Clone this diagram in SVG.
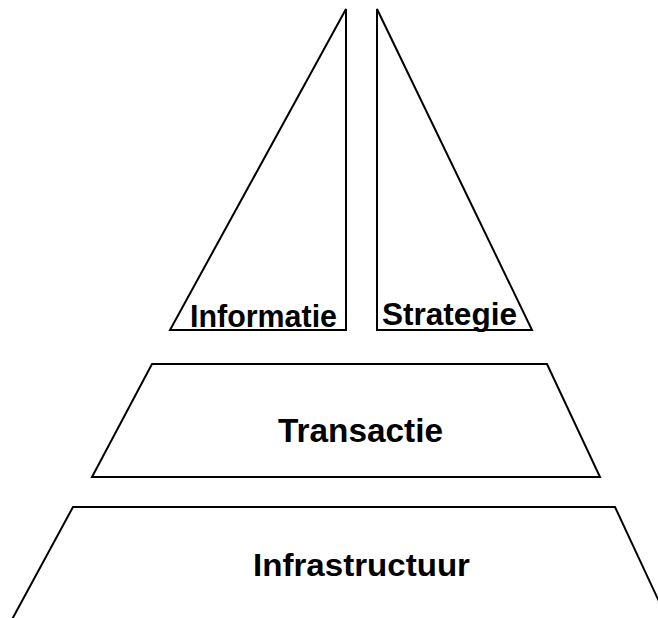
<svg xmlns="http://www.w3.org/2000/svg" width="658" height="618" viewBox="0 0 658 618">
  <style>
    .shape { fill: #ffffff; stroke: #000000; stroke-width: 2; stroke-linejoin: miter; }
    .label { font-family: "Liberation Sans", Arial, sans-serif; font-weight: bold; fill: #000000; }
  </style>
  <rect width="658" height="618" fill="#ffffff"/>
  <g id="informatie">
    <polygon class="shape" points="346,9 346,330 170,330"/>
    <text class="label" x="190" y="327" font-size="31" textLength="147" lengthAdjust="spacingAndGlyphs">Informatie</text>
  </g>
  <g id="strategie">
    <polygon class="shape" points="377,9 377,330 532,330"/>
    <text class="label" x="382" y="325" font-size="31" textLength="135" lengthAdjust="spacingAndGlyphs">Strategie</text>
  </g>
  <g id="transactie">
    <polygon class="shape" points="152,364 547,364 600,477 92,477"/>
    <text class="label" x="278" y="442" font-size="34" textLength="165" lengthAdjust="spacingAndGlyphs">Transactie</text>
  </g>
  <g id="infrastructuur">
    <polygon class="shape" points="73,507 615,507 670,625 9,625"/>
    <text class="label" x="253" y="576" font-size="32" textLength="217" lengthAdjust="spacingAndGlyphs">Infrastructuur</text>
  </g>
</svg>
